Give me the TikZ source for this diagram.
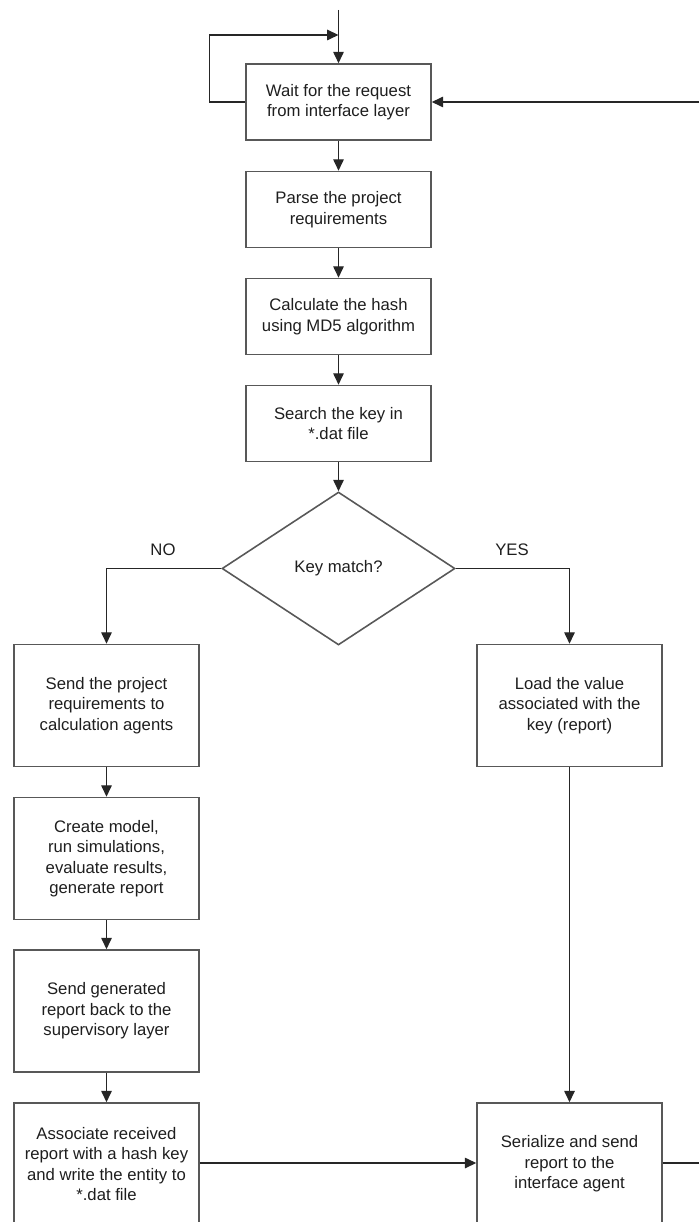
\documentclass[tikz,border=0pt]{standalone}
\usepackage{fontspec}
\setmainfont{Liberation Sans}
\usetikzlibrary{arrows.meta,positioning,shapes.geometric}
\definecolor{boxline}{RGB}{88,88,88}
\definecolor{txt}{RGB}{30,30,30}
\tikzset{
  stepbox/.style={draw=boxline,line width=0.9pt,rectangle,text=txt,align=center,
    minimum width=3.7cm,minimum height=1.52cm,inner sep=2pt,
    font=\fontsize{9.5}{11.6}\selectfont},
  tallbox/.style={stepbox,minimum height=2.44cm},
  decision/.style={draw=boxline,line width=0.9pt,diamond,text=txt,
    minimum width=4.66cm,minimum height=3.06cm,inner sep=0pt,
    font=\fontsize{9.5}{11.6}\selectfont},
  flow/.style={draw=black!85,line width=0.75pt,-{Triangle[width=6pt,length=6.5pt]}},
  plain/.style={draw=black!85,line width=0.75pt},
  branch/.style={text=txt,font=\fontsize{9.5}{11.6}\selectfont}
}
\begin{document}
\begin{tikzpicture}[x=0.02cm,y=-0.02cm]
\useasboundingbox (0,0) rectangle (699,1222);
% main column
\node[stepbox] (wait) at (338.5,102) {Wait for the request\\from interface layer};
\node[stepbox] (parse) at (338.5,209.5) {Parse the project\\requirements};
\node[stepbox] (hash) at (338.5,316.5) {Calculate the hash\\using MD5 algorithm};
\node[stepbox] (search) at (338.5,423.5) {Search the key in\\*.dat file};
\node[decision] (match) at (338.5,568.5) {Key match?};
% NO branch
\node[tallbox] (send) at (106.5,705.5) {Send the project\\requirements to\\calculation agents};
\node[tallbox] (model) at (106.5,858.5) {Create model,\\run simulations,\\evaluate results,\\generate report};
\node[tallbox] (back) at (106.5,1011) {Send generated\\report back to the\\supervisory layer};
\node[tallbox] (store) at (106.5,1164) {Associate received\\report with a hash key\\and write the entity to\\*.dat file};
% YES branch
\node[tallbox] (load) at (569.5,705.5) {Load the value\\associated with the\\key (report)};
\node[tallbox] (reply) at (569.5,1164) {Serialize and send\\report to the\\interface agent};
\node[branch] (no) at (163,550) {NO};
\node[branch] (yes) at (512,550) {YES};
% free ends
\coordinate (start) at (338.5,10);
\coordinate (loop) at (338.5,35);
\coordinate (fromright) at (699,102);
\coordinate (toright) at (699,1163);
% connectors
\draw[flow] (start) -- (wait);
\draw[flow] (wait.west) -- ++(-36,0) |- (loop);
\draw[flow] (fromright) -- (wait.east);
\draw[flow] (wait) -- (parse);
\draw[flow] (parse) -- (hash);
\draw[flow] (hash) -- (search);
\draw[flow] (search) -- (match);
\draw[flow] (match.west) -| (send.north);
\draw[flow] (match.east) -| (load.north);
\draw[flow] (send) -- (model);
\draw[flow] (model) -- (back);
\draw[flow] (back) -- (store);
\draw[flow] (load) -- (reply);
\draw[flow] (store.east |- toright) -- (reply.west |- toright);
\draw[plain] (reply.east |- toright) -- (toright);
\end{tikzpicture}
\end{document}
